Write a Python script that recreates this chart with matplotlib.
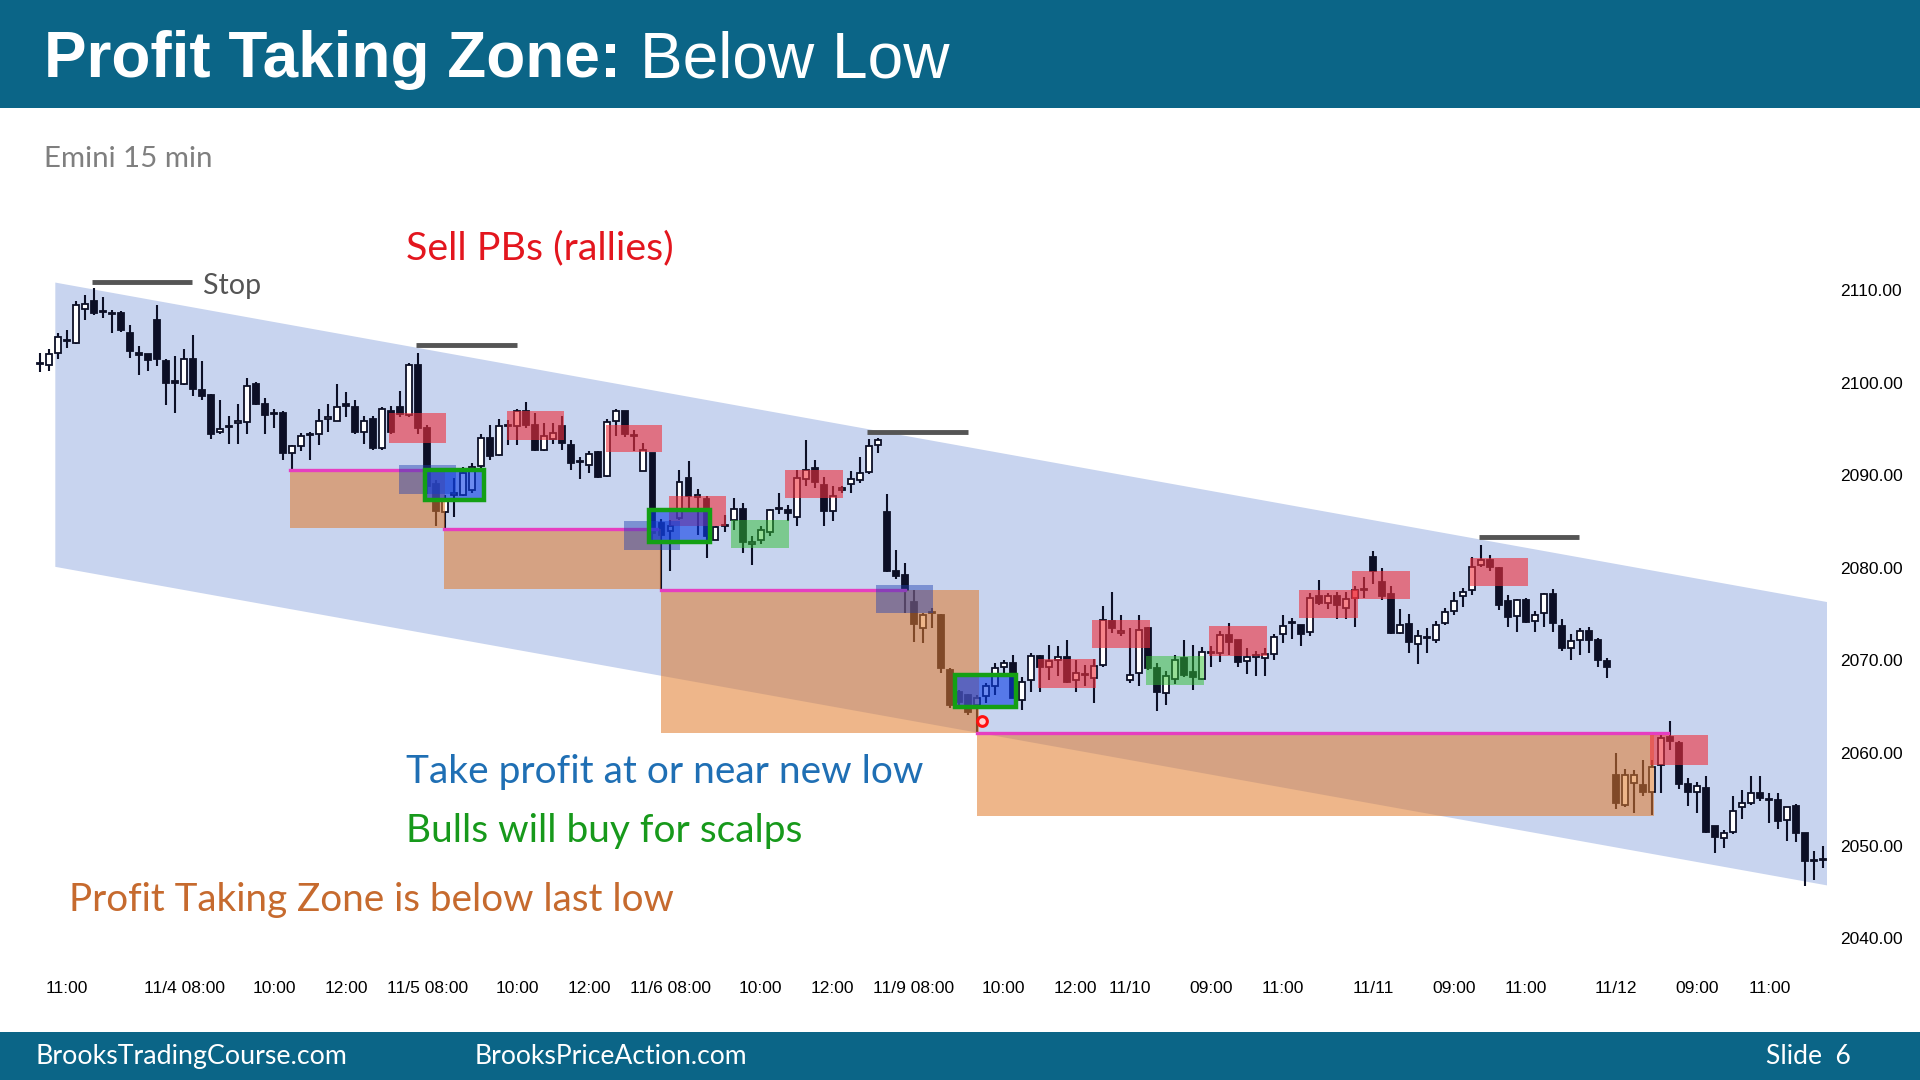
import matplotlib
matplotlib.use("Agg")
import matplotlib.pyplot as plt
from matplotlib.patches import Rectangle, Polygon

# Emini 15 min bars, 11/3 11:00 .. 11/12 11:30 (bar index 0..198)
opens = [
    2102.0, 2101.9, 2103.2, 2104.6, 2104.3, 2107.9, 2108.8, 2107.7, 2107.5, 2107.5,
    2105.4, 2103.1, 2103.1, 2106.8, 2102.3, 2100.1, 2099.9, 2102.6, 2099.2, 2098.7,
    2094.7, 2095.3, 2095.6, 2095.7, 2099.9, 2097.7, 2096.7, 2096.7, 2092.4, 2093.1,
    2094.4, 2094.4, 2096.1, 2095.9, 2097.6, 2097.4, 2094.7, 2096.1, 2092.9, 2096.9,
    2097.4, 2096.5, 2101.9, 2095.1, 2089.0, 2086.0, 2087.9, 2087.9, 2088.4, 2091.0,
    2094.0, 2092.2, 2095.4, 2095.3, 2096.9, 2095.4, 2092.7, 2093.9, 2095.3, 2093.3,
    2091.5, 2091.1, 2092.5, 2089.9, 2095.8, 2096.9, 2094.2, 2090.4, 2092.4, 2084.8,
    2084.0, 2085.4, 2089.7, 2087.6, 2087.4, 2083.0, 2084.6, 2085.2, 2086.4, 2082.6,
    2083.0, 2083.9, 2086.3, 2086.2, 2085.5, 2089.6, 2090.8, 2088.9, 2086.1, 2088.4,
    2089.1, 2089.5, 2090.3, 2093.3, 2086.0, 2079.7, 2079.2, 2076.3, 2073.5, 2075.2,
    2074.9, 2069.0, 2066.6, 2066.3, 2065.2, 2066.1, 2067.2, 2069.3, 2069.7, 2065.7,
    2067.9, 2070.5, 2069.3, 2070.0, 2070.4, 2067.9, 2068.4, 2068.1, 2069.5, 2074.2,
    2073.0, 2067.9, 2068.6, 2073.5, 2069.2, 2066.5, 2068.0, 2070.3, 2068.7, 2068.0,
    2070.8, 2070.8, 2072.7, 2072.2, 2069.9, 2070.4, 2070.3, 2070.7, 2072.9, 2074.0,
    2073.8, 2073.1, 2076.9, 2076.2, 2076.9, 2075.7, 2076.7, 2077.6, 2081.2, 2078.5,
    2077.2, 2073.0, 2073.9, 2071.8, 2072.4, 2072.2, 2074.0, 2075.3, 2076.9, 2077.6,
    2080.3, 2080.8, 2080.0, 2076.4, 2074.8, 2076.5, 2074.2, 2075.1, 2077.2, 2073.7,
    2071.3, 2072.2, 2073.2, 2072.2, 2069.9, 2057.6, 2054.4, 2056.8, 2056.5, 2055.8,
    2058.7, 2061.7, 2061.1, 2056.7, 2055.8, 2056.2, 2052.1, 2050.8, 2051.5, 2054.2,
    2054.6, 2055.7, 2054.9, 2054.9, 2052.8, 2054.3, 2051.4, 2048.3, 2048.4,
]
highs = [
    2103.2, 2103.6, 2105.4, 2105.7, 2108.8, 2109.5, 2110.2, 2109.2, 2107.8, 2107.7,
    2106.2, 2103.9, 2103.1, 2108.4, 2102.6, 2102.9, 2103.6, 2105.1, 2102.3, 2098.8,
    2098.1, 2096.4, 2097.7, 2100.5, 2100.1, 2098.3, 2097.2, 2096.9, 2093.3, 2094.6,
    2094.7, 2097.2, 2097.7, 2099.9, 2099.0, 2098.1, 2096.4, 2096.4, 2097.4, 2097.5,
    2099.1, 2102.1, 2103.2, 2095.4, 2089.5, 2087.9, 2089.7, 2090.9, 2091.3, 2094.5,
    2095.4, 2096.1, 2096.0, 2097.1, 2097.9, 2096.7, 2095.6, 2095.6, 2096.4, 2093.8,
    2092.0, 2092.6, 2092.6, 2096.1, 2097.2, 2096.9, 2094.9, 2093.5, 2092.4, 2085.3,
    2085.2, 2090.6, 2091.5, 2088.5, 2087.7, 2084.5, 2085.7, 2087.5, 2087.0, 2083.4,
    2084.5, 2086.4, 2088.1, 2086.8, 2090.6, 2093.8, 2091.6, 2089.8, 2088.8, 2088.8,
    2090.4, 2092.0, 2093.9, 2094.0, 2088.0, 2081.9, 2080.5, 2077.6, 2075.1, 2075.7,
    2075.0, 2069.2, 2066.8, 2066.4, 2066.3, 2067.6, 2069.7, 2070.0, 2070.6, 2068.2,
    2070.8, 2070.6, 2071.7, 2071.5, 2072.2, 2070.0, 2069.5, 2070.2, 2075.9, 2077.4,
    2074.9, 2073.5, 2074.9, 2073.6, 2069.7, 2068.8, 2070.6, 2072.2, 2071.7, 2071.4,
    2071.6, 2073.2, 2074.0, 2072.2, 2071.3, 2071.0, 2071.3, 2072.8, 2074.9, 2074.6,
    2073.8, 2077.3, 2078.7, 2077.3, 2077.4, 2077.4, 2078.0, 2079.0, 2081.8, 2080.0,
    2078.0, 2075.5, 2075.0, 2073.3, 2073.5, 2074.2, 2075.7, 2077.4, 2077.8, 2081.2,
    2082.5, 2081.4, 2080.1, 2077.1, 2076.6, 2076.7, 2075.3, 2077.3, 2077.7, 2074.5,
    2072.8, 2073.5, 2073.6, 2072.4, 2070.3, 2060.0, 2058.3, 2058.2, 2059.2, 2059.2,
    2062.0, 2063.4, 2061.3, 2057.3, 2056.9, 2057.5, 2052.1, 2051.7, 2055.3, 2056.0,
    2057.5, 2057.5, 2055.7, 2055.7, 2054.2, 2054.5, 2051.4, 2049.4, 2049.9,
]
lows = [
    2101.1, 2101.3, 2102.5, 2103.7, 2104.2, 2106.8, 2107.3, 2107.0, 2105.4, 2105.5,
    2102.7, 2100.8, 2101.3, 2101.8, 2097.6, 2096.7, 2099.7, 2098.5, 2098.1, 2093.9,
    2094.4, 2093.4, 2093.4, 2094.5, 2097.6, 2094.5, 2095.1, 2091.6, 2090.6, 2092.6,
    2091.6, 2093.3, 2094.7, 2095.8, 2096.3, 2094.4, 2093.4, 2092.7, 2092.7, 2094.5,
    2096.3, 2096.3, 2094.5, 2088.0, 2084.5, 2084.2, 2085.5, 2087.7, 2088.1, 2090.8,
    2091.6, 2092.1, 2093.3, 2093.3, 2095.1, 2092.6, 2092.6, 2093.4, 2092.7, 2090.6,
    2089.6, 2090.2, 2089.7, 2089.8, 2094.2, 2094.1, 2092.6, 2090.4, 2083.0, 2077.6,
    2079.6, 2085.2, 2086.5, 2083.5, 2081.1, 2083.0, 2083.9, 2084.1, 2081.6, 2080.3,
    2082.6, 2083.4, 2085.8, 2085.1, 2084.5, 2088.8, 2088.6, 2084.5, 2085.0, 2088.1,
    2088.1, 2089.2, 2090.1, 2092.4, 2079.5, 2078.8, 2075.1, 2072.0, 2071.9, 2073.5,
    2068.6, 2064.9, 2065.0, 2064.1, 2062.3, 2065.4, 2066.3, 2068.6, 2065.9, 2064.6,
    2066.6, 2066.6, 2067.9, 2068.3, 2067.6, 2066.6, 2067.2, 2065.4, 2069.3, 2073.0,
    2072.6, 2067.6, 2067.2, 2069.0, 2064.5, 2065.2, 2067.4, 2068.2, 2066.8, 2067.9,
    2069.3, 2069.8, 2070.6, 2069.3, 2068.5, 2068.3, 2068.3, 2070.0, 2071.9, 2072.3,
    2071.6, 2072.6, 2076.0, 2075.5, 2074.5, 2074.5, 2073.6, 2076.7, 2078.2, 2076.5,
    2072.8, 2072.9, 2070.8, 2069.6, 2070.8, 2071.9, 2073.8, 2074.9, 2075.8, 2077.1,
    2080.1, 2079.6, 2075.4, 2073.6, 2073.1, 2074.0, 2073.1, 2073.6, 2073.1, 2071.0,
    2070.0, 2070.6, 2070.8, 2069.3, 2068.1, 2053.9, 2054.2, 2053.5, 2055.3, 2053.3,
    2055.7, 2060.3, 2056.1, 2054.3, 2053.5, 2051.4, 2049.2, 2049.7, 2051.2, 2052.9,
    2054.4, 2054.8, 2052.4, 2051.8, 2050.5, 2050.4, 2045.6, 2046.3, 2047.6,
]
closes = [
    2102.1, 2103.1, 2104.9, 2104.5, 2108.4, 2108.5, 2107.5, 2107.6, 2107.4, 2105.7,
    2103.4, 2103.0, 2102.4, 2102.5, 2100.0, 2100.0, 2102.6, 2099.3, 2098.5, 2094.5,
    2095.0, 2095.2, 2095.9, 2099.6, 2097.7, 2096.5, 2096.6, 2092.4, 2093.1, 2094.2,
    2094.3, 2095.9, 2096.2, 2097.4, 2097.5, 2094.7, 2095.8, 2092.9, 2097.1, 2094.7,
    2096.6, 2101.9, 2095.1, 2088.8, 2086.1, 2087.2, 2088.0, 2090.2, 2090.9, 2094.0,
    2092.1, 2095.3, 2095.3, 2096.9, 2095.4, 2092.7, 2094.2, 2094.6, 2093.5, 2091.3,
    2091.4, 2092.3, 2089.8, 2095.7, 2096.9, 2094.4, 2094.3, 2092.7, 2083.8, 2083.5,
    2084.5, 2089.3, 2087.7, 2087.9, 2083.4, 2084.4, 2084.5, 2086.3, 2082.8, 2082.7,
    2084.1, 2086.2, 2086.4, 2085.9, 2089.7, 2090.6, 2089.3, 2086.1, 2087.8, 2088.6,
    2089.6, 2090.2, 2093.1, 2093.8, 2079.7, 2079.1, 2077.6, 2073.9, 2074.9, 2075.1,
    2069.2, 2065.2, 2065.5, 2064.4, 2065.9, 2067.2, 2069.2, 2069.7, 2065.9, 2067.7,
    2070.5, 2069.3, 2069.9, 2070.4, 2067.7, 2068.6, 2068.5, 2069.4, 2074.4, 2073.5,
    2073.1, 2068.4, 2073.3, 2069.2, 2066.6, 2068.3, 2070.0, 2068.4, 2068.2, 2070.9,
    2070.9, 2072.7, 2072.0, 2069.8, 2070.4, 2070.5, 2070.7, 2072.5, 2073.7, 2074.1,
    2072.9, 2076.7, 2076.2, 2076.9, 2076.0, 2076.6, 2077.6, 2077.7, 2079.6, 2077.0,
    2073.0, 2073.8, 2072.0, 2072.6, 2072.5, 2073.8, 2075.2, 2076.4, 2077.4, 2080.1,
    2080.8, 2080.1, 2076.0, 2074.7, 2076.5, 2074.1, 2074.9, 2077.2, 2074.0, 2071.3,
    2072.1, 2073.2, 2072.2, 2070.0, 2069.3, 2054.6, 2057.6, 2057.6, 2055.8, 2058.5,
    2061.6, 2061.3, 2056.6, 2055.8, 2056.4, 2051.5, 2050.9, 2051.4, 2053.7, 2054.6,
    2055.7, 2055.1, 2054.9, 2052.6, 2054.2, 2051.4, 2048.3, 2048.3, 2048.4,
]

tick_pos = [3, 16, 26, 34, 43, 53, 61, 70, 80, 88, 97, 107, 115, 121, 130, 138,
            148, 157, 165, 175, 184, 192]
tick_labels = ["11:00", "11/4 08:00", "10:00", "12:00", "11/5 08:00", "10:00",
               "12:00", "11/6 08:00", "10:00", "12:00", "11/9 08:00", "10:00",
               "12:00", "11/10", "09:00", "11:00", "11/11", "09:00", "11:00",
               "11/12", "09:00", "11:00"]
price_ticks = [2040, 2050, 2060, 2070, 2080, 2090, 2100, 2110]

# bear channel: x ends, top line, bottom line
channel_x = [1.7, 198.4]
channel_top = [2110.8, 2076.3]
channel_bottom = [2080.1, 2045.7]

# profit taking zones below each new low: (x0, x1, bottom, low)
zones = [(27.8, 45.0, 2084.3, 2090.6), (44.9, 69.0, 2077.7, 2084.2),
         (69.0, 104.2, 2062.2, 2077.6), (104.0, 179.2, 2053.2, 2062.2)]
# the low lines (x0, x1, price)
low_lines = [(27.8, 44.0, 2090.6), (44.9, 68.5, 2084.2),
             (69.0, 96.0, 2077.6), (104.0, 180.8, 2062.2)]

# sell the pullbacks
red_boxes = [(38.8, 45.1, 2093.5, 2096.7), (51.8, 58.2, 2093.8, 2096.9),
             (62.8, 69.1, 2092.5, 2095.4), (69.8, 76.2, 2084.5, 2087.7),
             (82.7, 89.1, 2087.5, 2090.6), (110.8, 117.2, 2067.0, 2070.2),
             (116.8, 123.2, 2071.3, 2074.4), (129.8, 136.2, 2070.5, 2073.7),
             (139.8, 146.3, 2074.6, 2077.6), (145.7, 152.1, 2076.6, 2079.7),
             (158.8, 165.2, 2078.0, 2081.1), (178.8, 185.2, 2058.7, 2061.9)]
blue_boxes = [(39.9, 46.2, 2088.0, 2091.1), (64.8, 71.1, 2081.9, 2085.1),
              (92.8, 99.1, 2075.1, 2078.1)]
take_profit_boxes = [(42.7, 49.3, 2087.3, 2090.6), (67.6, 74.4, 2082.8, 2086.2),
                     (101.6, 108.4, 2065.0, 2068.4)]
green_boxes = [(76.7, 83.2, 2082.1, 2085.2), (122.8, 129.2, 2067.3, 2070.5)]

# protective stops above the swing highs (x0, x1, price)
stops = [(5.75, 16.9, 2110.9), (41.8, 53.0, 2104.1), (91.8, 103.0, 2094.7),
         (159.8, 170.9, 2083.3)]
new_low_mark = (104.55, 2063.4)

W, H = 1920, 1080
TEAL = "#0b6587"
SANS = ["Lato", "DejaVu Sans"]
ARIAL = ["Liberation Sans", "DejaVu Sans"]


def fx(x):
    return x / W


def fy(y):
    return 1 - y / H


def fit(txt, width_px, renderer):
    bb = txt.get_window_extent(renderer)
    txt.set_fontsize(txt.get_fontsize() * width_px / bb.width)


fig = plt.figure(figsize=(19.2, 10.8), dpi=100)
fig.patch.set_facecolor("white")

# price pane: bar i sits at 40 + 9.007 i px, 9.26 px per point
ax = fig.add_axes([0, fy(975.2), fx(1835), (975.2 - 215.9) / H])
ax.set_xlim(-40 / 9.007, (1835 - 40) / 9.007)
ax.set_ylim(2036, 2118)
for s in ax.spines.values():
    s.set_visible(False)

ax.add_patch(Polygon([(channel_x[0], channel_top[0]), (channel_x[1], channel_top[1]),
                      (channel_x[1], channel_bottom[1]), (channel_x[0], channel_bottom[0])],
                     closed=True, facecolor="#c8d4ef", edgecolor="none", zorder=1))

# candles
for i, (o, h, l, c) in enumerate(zip(opens, highs, lows, closes)):
    ax.plot([i, i], [l, h], color="#0c0f26", lw=1.5, zorder=3, solid_capstyle="butt")
    bottom = min(o, c)
    height = max(abs(c - o), 0.15)
    face = "white" if c >= o else "#0c0f26"
    ax.add_patch(Rectangle((i - 0.33, bottom), 0.66, height, facecolor=face,
                           edgecolor="#0c0f26", lw=1.3, zorder=4))

for x0, x1, lo, hi in zones:
    ax.add_patch(Rectangle((x0, lo), x1 - x0, hi - lo, facecolor="#e07a2a",
                           alpha=0.55, edgecolor="none", zorder=5))
for x0, x1, p in low_lines:
    ax.plot([x0, x1], [p, p], color="#e63ec0", lw=2.4, zorder=6)
for x0, x1, lo, hi in red_boxes:
    ax.add_patch(Rectangle((x0, lo), x1 - x0, hi - lo, facecolor="#f0303c",
                           alpha=0.6, edgecolor="none", zorder=7))
for x0, x1, lo, hi in green_boxes:
    ax.add_patch(Rectangle((x0, lo), x1 - x0, hi - lo, facecolor="#30c030",
                           alpha=0.5, edgecolor="none", zorder=7))
for x0, x1, lo, hi in blue_boxes:
    ax.add_patch(Rectangle((x0, lo), x1 - x0, hi - lo, facecolor="#2040b0",
                           alpha=0.45, edgecolor="none", zorder=7))
for x0, x1, lo, hi in take_profit_boxes:
    ax.add_patch(Rectangle((x0, lo), x1 - x0, hi - lo, facecolor="#0a3ce6",
                           alpha=0.6, edgecolor="none", zorder=8))
    ax.add_patch(Rectangle((x0, lo), x1 - x0, hi - lo, facecolor="none",
                           edgecolor="#14a014", lw=3.2, zorder=9))
for x0, x1, p in stops:
    ax.plot([x0, x1], [p, p], color="#555555", lw=3.5, zorder=6, solid_capstyle="butt")
ax.plot(*new_low_mark, "o", ms=7, mfc="#ffd0d0", mec="#ff1010", mew=2.2, zorder=10)

ax.yaxis.tick_right()
ax.set_yticks(price_ticks, [f"{p:.2f}" for p in price_ticks])
ax.set_xticks(tick_pos, tick_labels)
ax.tick_params(axis="both", length=0, labelsize=12.5, colors="black")
ax.tick_params(axis="y", pad=4)
ax.tick_params(axis="x", pad=4)
for lab in ax.get_xticklabels() + ax.get_yticklabels():
    lab.set_fontfamily(ARIAL)

# header and footer bars
fig.add_artist(Rectangle((0, fy(108)), 1, 108 / H, transform=fig.transFigure,
                         facecolor=TEAL, edgecolor="none", zorder=0))
fig.add_artist(Rectangle((0, 0), 1, 48 / H, transform=fig.transFigure,
                         facecolor=TEAL, edgecolor="none", zorder=0))

fig.canvas.draw()
r = fig.canvas.get_renderer()

texts = [
    (44, 77, "Profit Taking Zone:", "white", ARIAL, "bold", 577),
    (640, 77, "Below Low", "white", ARIAL, "normal", 309),
    (44, 167, "Emini 15 min", "#7f7f7f", SANS, "normal", 169),
    (406, 259, "Sell PBs (rallies)", "#e3161e", SANS, "normal", 268),
    (203, 294, "Stop", "#555555", SANS, "normal", 58),
    (406, 783, "Take profit at or near new low", "#1f6fb4", SANS, "normal", 518),
    (406, 842, "Bulls will buy for scalps", "#17991b", SANS, "normal", 397),
    (69, 911, "Profit Taking Zone is below last low", "#c66a2e", SANS, "normal", 604),
    (36, 1064, "BrooksTradingCourse.com", "white", SANS, "normal", 311),
    (475, 1064, "BrooksPriceAction.com", "white", SANS, "normal", 273),
    (1766, 1064, "Slide  6", "white", SANS, "normal", 85),
]
for x, y, s, col, fam, wt, width in texts:
    t = fig.text(fx(x), fy(y), s, color=col, family=fam, fontweight=wt,
                 fontsize=20, ha="left", va="baseline", zorder=12)
    fit(t, width, r)

fig.savefig("out.png", dpi=100)
